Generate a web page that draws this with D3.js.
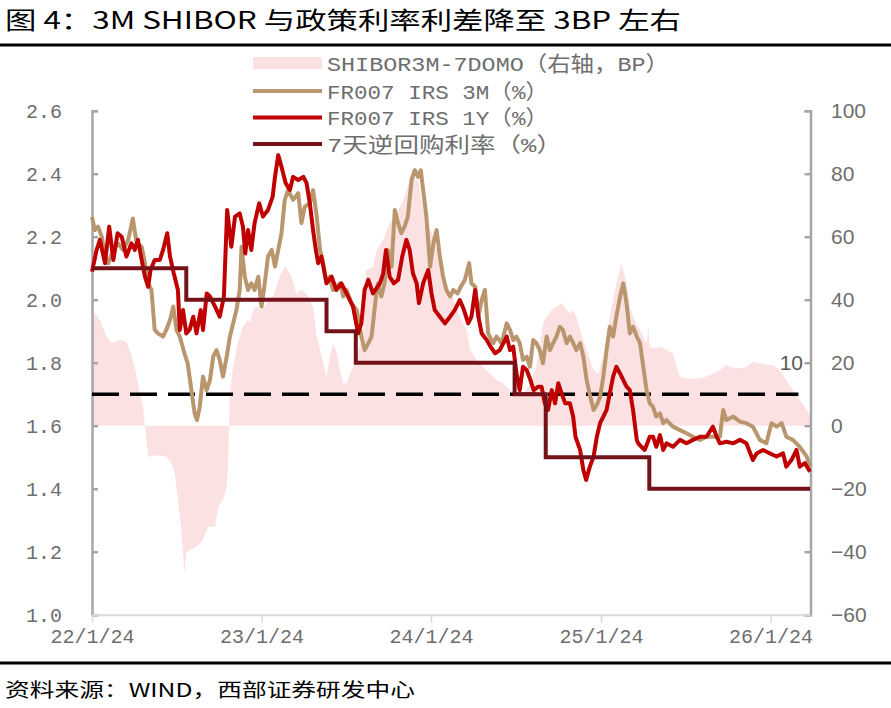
<!DOCTYPE html>
<html><head><meta charset="utf-8">
<script src="https://cdn.jsdelivr.net/npm/d3@7"></script>
<style>body{margin:0;background:#fff}svg{display:block}</style>
</head><body><svg id="c" width="891" height="708"></svg>
<script>
// ---------------- DATA ----------------
const titleText = "图 4：3M SHIBOR 与政策利率利差降至 3BP 左右";
const sourceText = "资料来源：WIND，西部证券研发中心";
const legendLabels = ["SHIBOR3M-7DOMO（右轴，BP）", "FR007 IRS 3M（%）", "FR007 IRS 1Y（%）", "7天逆回购利率（%）"];
const leftTicks = [1.0, 1.2, 1.4, 1.6, 1.8, 2.0, 2.2, 2.4, 2.6];
const rightTicks = [-60, -40, -20, 0, 20, 40, 60, 80, 100];
const xTickDates = ["2022-01-24", "2023-01-24", "2024-01-24", "2025-01-24", "2026-01-24"];
const xTickLabels = ["22/1/24", "23/1/24", "24/1/24", "25/1/24", "26/1/24"];
const refLineBP = 10;            // dashed reference line (right axis, BP)
const refLineEnd = "2026-03-25";
const refLabel = "10";

// SHIBOR3M - 7D OMO spread (BP, right axis)
const spread = [
["2022-01-24",36.7],["2022-02-10",33.6],["2022-02-24",28.3],["2022-03-07",26.2],["2022-03-25",27.2],["2022-04-08",26.7],
["2022-04-15",24],["2022-04-26",18.7],["2022-05-07",10.3],["2022-05-14",6],["2022-05-18",-0.3],["2022-05-21",-4.5],
["2022-05-25",-9.8],["2022-06-01",-9.8],["2022-06-12",-9.3],["2022-07-03",-9.8],["2022-07-14",-11.9],["2022-07-21",-15.1],
["2022-07-28",-23.6],["2022-08-05",-34.2],["2022-08-11",-46.9],["2022-08-15",-40.5],["2022-08-22",-39.5],["2022-09-06",-38.4],
["2022-09-20",-36.3],["2022-10-01",-32.1],["2022-10-16",-32.1],["2022-10-23",-25.7],["2022-11-02",-23.6],["2022-11-10",-19.4],
["2022-11-13",-13],["2022-11-15",-0.3],["2022-11-17",10.3],["2022-11-24",18.7],["2022-12-04",26.2],["2022-12-15",31.4],
["2022-12-26",33.6],["2022-12-30",32.5],["2023-01-06",36.7],["2023-01-13",37.8],["2023-01-24",36.7],["2023-02-04",38.9],
["2023-02-18",41],["2023-03-04",47.3],["2023-03-15",50.5],["2023-03-22",49.4],["2023-03-30",47.3],["2023-04-09",42],
["2023-04-20",43.1],["2023-05-01",42],["2023-05-15",37.8],["2023-05-23",28.3],["2023-06-06",19.8],["2023-06-13",15.6],
["2023-06-20",21.9],["2023-06-27",26.2],["2023-07-04",24],["2023-07-12",17.7],["2023-07-19",13.5],["2023-07-26",13.5],
["2023-08-06",17.7],["2023-08-13",19.8],["2023-08-20",24],["2023-08-27",27.2],["2023-09-01",30.4],["2023-09-06",49.4],
["2023-09-21",50.5],["2023-09-29",55.8],["2023-10-13",59],["2023-10-27",64.3],["2023-11-11",67.4],["2023-11-25",71.6],
["2023-12-05",75.9],["2023-12-16",79],["2023-12-27",78],["2024-01-07",68.5],["2024-01-18",64.3],["2024-01-29",60],
["2024-02-12",52.6],["2024-02-26",45.2],["2024-03-12",39.9],["2024-03-26",34.6],["2024-04-10",30.4],["2024-04-17",24],
["2024-05-01",20.9],["2024-05-15",18.7],["2024-05-30",16.6],["2024-06-13",14.5],["2024-06-27",13.5],["2024-07-12",11.3],
["2024-07-26",10.3],["2024-08-09",9.7],["2024-08-24",13.5],["2024-09-07",18.7],["2024-09-14",25.1],["2024-09-21",32.5],
["2024-09-29",34.6],["2024-10-10",36.7],["2024-10-20",37.8],["2024-10-31",38.9],["2024-11-11",36.7],["2024-11-18",35.7],
["2024-11-25",36.7],["2024-12-02",34.6],["2024-12-10",30.4],["2024-12-24",24],["2025-01-08",17.7],["2025-01-18",16.6],
["2025-01-29",21.9],["2025-02-12",34.6],["2025-02-26",45.2],["2025-03-09",51.6],["2025-03-20",45.2],["2025-03-27",37.8],
["2025-04-03",34.6],["2025-04-14",31.4],["2025-04-25",28.3],["2025-05-02",26.2],["2025-05-06",31.4],["2025-05-09",25.1],
["2025-05-20",24.6],["2025-06-03",25.1],["2025-06-14",24],["2025-06-28",23],["2025-07-06",18.7],["2025-07-13",15.6],
["2025-07-27",15],["2025-08-10",15],["2025-08-25",15],["2025-09-08",15.6],["2025-09-22",16.6],["2025-10-07",17.7],
["2025-10-21",19.3],["2025-11-05",18.2],["2025-11-19",18.2],["2025-12-03",18.7],["2025-12-17",20.3],["2026-01-01",19.8],
["2026-01-15",19.3],["2026-01-30",19.3],["2026-02-13",17.7],["2026-02-27",14.5],["2026-03-13",11.3],["2026-03-28",8.2],
["2026-04-12",5],["2026-04-19",3.4]
];

// FR007 IRS 3M (%)
const irs3m = [
["2022-01-24",2.263],["2022-01-30",2.221],["2022-02-06",2.232],["2022-02-14",2.2],["2022-02-21",2.137],["2022-02-28",2.116],
["2022-03-11",2.158],["2022-03-21",2.179],["2022-04-01",2.158],["2022-04-12",2.19],["2022-04-22",2.258],["2022-04-30",2.179],
["2022-05-11",2.168],["2022-05-18",2.116],["2022-05-25",2.052],["2022-06-01",2.031],["2022-06-08",1.904],["2022-06-15",1.893],
["2022-06-26",1.883],["2022-07-03",1.904],["2022-07-11",1.936],["2022-07-18",1.978],["2022-07-25",1.904],["2022-08-01",1.883],
["2022-08-11",1.83],["2022-08-18",1.798],["2022-08-26",1.713],["2022-09-02",1.639],["2022-09-07",1.618],["2022-09-13",1.66],
["2022-09-20",1.756],["2022-09-28",1.713],["2022-10-05",1.745],["2022-10-12",1.819],["2022-10-19",1.84],["2022-10-26",1.809],
["2022-11-02",1.756],["2022-11-10",1.819],["2022-11-17",1.883],["2022-11-24",1.925],["2022-12-01",1.967],["2022-12-08",2.031],
["2022-12-12",2.168],["2022-12-19",2.073],["2022-12-26",2.031],["2023-01-02",2.052],["2023-01-09",2.031],["2023-01-17",2.073],
["2023-01-24",1.978],["2023-01-31",2.052],["2023-02-07",2.137],["2023-02-15",2.158],["2023-02-22",2.105],["2023-03-01",2.158],
["2023-03-08",2.211],["2023-03-15",2.317],["2023-03-22",2.348],["2023-04-02",2.317],["2023-04-13",2.338],["2023-04-20",2.243],
["2023-04-27",2.295],["2023-05-08",2.306],["2023-05-15",2.348],["2023-05-23",2.263],["2023-05-30",2.158],["2023-06-06",2.116],
["2023-06-13",2.052],["2023-06-20",2.073],["2023-06-27",2.031],["2023-07-12",2.052],["2023-07-19",2.01],["2023-07-26",2.031],
["2023-08-06",1.989],["2023-08-17",1.967],["2023-08-27",1.883],["2023-09-03",1.84],["2023-09-11",1.862],["2023-09-18",1.883],
["2023-09-29",2.031],["2023-10-02",2.052],["2023-10-09",2.01],["2023-10-16",2.052],["2023-10-23",2.158],["2023-10-31",2.105],
["2023-11-07",2.285],["2023-11-14",2.243],["2023-11-21",2.211],["2023-11-28",2.232],["2023-12-05",2.263],["2023-12-13",2.38],
["2023-12-20",2.411],["2023-12-27",2.39],["2024-01-02",2.411],["2024-01-07",2.348],["2024-01-14",2.263],["2024-01-22",2.105],
["2024-01-29",2.179],["2024-02-05",2.221],["2024-02-12",2.137],["2024-02-19",2.073],["2024-02-26",2.031],["2024-03-05",2.01],
["2024-03-12",2.031],["2024-03-21",2.02],["2024-03-28",2.041],["2024-04-06",2.063],["2024-04-15",2.116],["2024-04-20",2.052],
["2024-04-28",2.041],["2024-05-05",1.946],["2024-05-12",1.999],["2024-05-19",2.031],["2024-05-26",1.893],["2024-06-06",1.862],
["2024-06-13",1.883],["2024-06-24",1.862],["2024-07-05",1.925],["2024-07-12",1.904],["2024-07-19",1.872],["2024-07-26",1.883],
["2024-08-02",1.862],["2024-08-09",1.809],["2024-08-17",1.819],["2024-08-24",1.787],["2024-08-31",1.872],["2024-09-07",1.862],
["2024-09-14",1.84],["2024-09-21",1.798],["2024-09-29",1.883],["2024-10-06",1.84],["2024-10-13",1.862],["2024-10-20",1.883],
["2024-10-27",1.914],["2024-11-03",1.904],["2024-11-11",1.862],["2024-11-18",1.883],["2024-11-25",1.862],["2024-12-02",1.84],
["2024-12-10",1.862],["2024-12-17",1.819],["2024-12-24",1.745],["2024-12-31",1.698],["2025-01-08",1.65],["2025-01-15",1.666],
["2025-01-22",1.692],["2025-01-29",1.756],["2025-02-05",1.84],["2025-02-12",1.914],["2025-02-19",1.883],["2025-02-26",1.946],
["2025-03-06",2.01],["2025-03-13",2.052],["2025-03-20",1.989],["2025-03-27",1.893],["2025-04-03",1.914],["2025-04-11",1.883],
["2025-04-18",1.862],["2025-04-25",1.787],["2025-05-02",1.713],["2025-05-09",1.671],["2025-05-16",1.66],["2025-05-23",1.629],
["2025-05-31",1.639],["2025-06-07",1.608],["2025-06-14",1.618],["2025-06-28",1.597],["2025-07-13",1.586],["2025-07-27",1.576],
["2025-08-10",1.565],["2025-08-25",1.555],["2025-09-08",1.565],["2025-09-22",1.565],["2025-10-07",1.565],["2025-10-14",1.65],
["2025-10-21",1.618],["2025-11-05",1.629],["2025-11-19",1.613],["2025-12-03",1.608],["2025-12-17",1.597],["2026-01-01",1.555],
["2026-01-15",1.544],["2026-01-26",1.608],["2026-02-06",1.597],["2026-02-17",1.608],["2026-02-27",1.565],["2026-03-13",1.555],
["2026-03-28",1.533],["2026-04-12",1.502],["2026-04-19",1.47]
];

// FR007 IRS 1Y (%)
const irs1y = [
["2022-01-24",2.089],["2022-02-03",2.158],["2022-02-10",2.19],["2022-02-21",2.116],["2022-03-02",2.232],["2022-03-11",2.126],
["2022-03-20",2.211],["2022-03-29",2.2],["2022-04-08",2.137],["2022-04-19",2.179],["2022-04-26",2.158],["2022-05-03",2.19],
["2022-05-11",2.126],["2022-05-18",2.073],["2022-05-25",2.041],["2022-05-30",2.094],["2022-06-08",2.126],["2022-06-19",2.126],
["2022-06-26",2.158],["2022-07-05",2.211],["2022-07-11",2.137],["2022-07-19",2.084],["2022-07-28",2.031],["2022-08-01",1.904],
["2022-08-08",1.967],["2022-08-15",1.893],["2022-08-22",1.904],["2022-08-30",1.946],["2022-09-06",1.893],["2022-09-15",1.967],
["2022-09-20",1.904],["2022-09-28",2.02],["2022-10-05",2.01],["2022-10-16",1.978],["2022-10-26",1.946],["2022-11-04",2.01],
["2022-11-11",2.285],["2022-11-20",2.168],["2022-11-28",2.264],["2022-12-08",2.274],["2022-12-15",2.232],["2022-12-20",2.147],
["2022-12-26",2.221],["2023-01-02",2.158],["2023-01-09",2.243],["2023-01-19",2.306],["2023-01-27",2.264],["2023-02-07",2.285],
["2023-02-17",2.327],["2023-02-22",2.39],["2023-03-01",2.459],["2023-03-08",2.422],["2023-03-17",2.37],["2023-03-26",2.348],
["2023-04-02",2.39],["2023-04-13",2.38],["2023-04-24",2.39],["2023-05-01",2.37],["2023-05-08",2.306],["2023-05-15",2.221],
["2023-05-21",2.158],["2023-05-26",2.116],["2023-06-02",2.137],["2023-06-13",2.052],["2023-06-24",2.073],["2023-07-04",2.031],
["2023-07-15",2.052],["2023-07-26",2.02],["2023-08-09",1.978],["2023-08-20",1.893],["2023-08-27",1.925],["2023-09-03",2.031],
["2023-09-11",2.063],["2023-09-21",2.02],["2023-10-06",2.052],["2023-10-13",2.084],["2023-10-19",2.158],["2023-10-27",2.073],
["2023-11-05",2.052],["2023-11-14",2.063],["2023-11-23",2.137],["2023-12-02",2.19],["2023-12-09",2.158],["2023-12-16",2.084],
["2023-12-24",2.052],["2023-12-29",1.989],["2024-01-07",2.052],["2024-01-18",2.094],["2024-01-25",2.02],["2024-02-01",1.967],
["2024-02-12",1.946],["2024-02-23",1.925],["2024-03-05",1.946],["2024-03-15",1.967],["2024-03-26",1.999],["2024-04-04",1.967],
["2024-04-13",1.925],["2024-04-20",1.946],["2024-04-28",2.031],["2024-05-05",1.946],["2024-05-12",1.893],["2024-05-23",1.872],
["2024-05-31",1.851],["2024-06-10",1.83],["2024-06-20",1.84],["2024-07-05",1.883],["2024-07-12",1.84],["2024-07-19",1.851],
["2024-07-26",1.766],["2024-08-02",1.713],["2024-08-09",1.787],["2024-08-17",1.777],["2024-08-25",1.745],["2024-09-01",1.713],
["2024-09-11",1.724],["2024-09-18",1.724],["2024-09-25",1.671],["2024-10-02",1.65],["2024-10-10",1.713],["2024-10-17",1.671],
["2024-10-24",1.735],["2024-10-31",1.703],["2024-11-08",1.671],["2024-11-18",1.671],["2024-11-25",1.629],["2024-11-30",1.565],
["2024-12-10",1.523],["2024-12-17",1.459],["2024-12-23",1.428],["2024-12-31",1.47],["2025-01-08",1.502],["2025-01-15",1.565],
["2025-01-22",1.608],["2025-01-29",1.629],["2025-02-05",1.65],["2025-02-12",1.703],["2025-02-19",1.756],["2025-02-26",1.787],
["2025-03-06",1.766],["2025-03-13",1.745],["2025-03-20",1.724],["2025-03-27",1.713],["2025-04-03",1.65],["2025-04-11",1.555],
["2025-04-14",1.544],["2025-04-21",1.533],["2025-04-28",1.523],["2025-05-09",1.565],["2025-05-16",1.565],["2025-05-23",1.533],
["2025-05-31",1.57],["2025-06-07",1.523],["2025-06-14",1.544],["2025-06-28",1.533],["2025-07-13",1.555],["2025-07-27",1.544],
["2025-08-10",1.555],["2025-08-25",1.565],["2025-09-08",1.565],["2025-09-22",1.597],["2025-09-30",1.565],["2025-10-07",1.544],
["2025-10-21",1.549],["2025-11-05",1.544],["2025-11-19",1.555],["2025-12-03",1.544],["2025-12-17",1.491],["2025-12-25",1.512],
["2026-01-08",1.523],["2026-01-23",1.512],["2026-02-06",1.502],["2026-02-20",1.512],["2026-02-27",1.47],["2026-03-10",1.491],
["2026-03-21",1.523],["2026-03-28",1.47],["2026-04-08",1.481],["2026-04-19",1.454]
];

// 7-day reverse repo rate (%), step changes
const repo7d = [
["2022-01-24",2.10],["2022-08-15",2.00],["2023-06-13",1.90],["2023-08-15",1.80],
["2024-07-22",1.70],["2024-09-27",1.50],["2025-05-08",1.40],["2026-04-19",1.40]
];

const seriesColors = { spread: "#fce1e3", irs3m: "#b9966e", irs1y: "#c00000", repo: "#74121a" };

// ---------------- CHART ----------------
const parse = d3.timeParse("%Y-%m-%d");
const svg = d3.select("#c");
const x = d3.scaleTime().domain([parse("2022-01-24"), parse("2026-04-19")]).range([92, 810]);
const yL = d3.scaleLinear().domain([1.0, 2.6]).range([614.7, 110.7]);
const yR = d3.scaleLinear().domain([-60, 100]).range([614.7, 110.7]);

const monoFont = "'Liberation Mono', 'Noto Sans CJK SC', monospace";
const sansFont = "'Liberation Sans', Arial, sans-serif";
const cjkFont = "'Noto Sans CJK SC', sans-serif";

// title + rules
svg.append("text").attr("x", 5).attr("y", 29).attr("font-family", cjkFont).attr("font-size", 24)
  .attr("fill", "#000").attr("textLength", 676).attr("lengthAdjust", "spacingAndGlyphs").text(titleText);
svg.append("line").attr("x1", 0).attr("x2", 891).attr("y1", 45).attr("y2", 45).attr("stroke", "#000").attr("stroke-width", 3);
svg.append("line").attr("x1", 0).attr("x2", 891).attr("y1", 663).attr("y2", 663).attr("stroke", "#000").attr("stroke-width", 3);
svg.append("text").attr("x", 5).attr("y", 697).attr("font-family", cjkFont).attr("font-size", 19)
  .attr("fill", "#000").attr("textLength", 410).attr("lengthAdjust", "spacingAndGlyphs").text(sourceText);

// spread area
const area = d3.area().x(d => x(parse(d[0]))).y0(yR(0)).y1(d => yR(d[1]));
svg.append("path").datum(spread).attr("d", area).attr("fill", seriesColors.spread);

// axes
const gL = svg.append("g").attr("transform", "translate(92,0)")
  .call(d3.axisRight(yL).tickValues(leftTicks).tickSize(6).tickFormat(""));
const gR = svg.append("g").attr("transform", "translate(810.5,0)")
  .call(d3.axisLeft(yR).tickValues(rightTicks).tickSize(6).tickFormat(""));
[gL, gR].forEach(g => {
  g.selectAll("path,line").attr("stroke", "#a6a6a6").attr("stroke-width", 2.5);
});
const gB = svg.append("g").attr("transform", "translate(0,614.7)")
  .call(d3.axisBottom(x).tickValues(xTickDates.map(parse)).tickSize(8).tickSizeOuter(0)
    .tickFormat((d, i) => xTickLabels[i]));
gB.select(".domain").attr("stroke", "#d9d9d9").attr("stroke-width", 2);
gB.selectAll(".tick line").attr("stroke", "#d9d9d9").attr("stroke-width", 1.5);
gB.selectAll(".tick text").attr("font-family", monoFont).attr("font-size", 20).attr("fill", "#6e6e6e")
  .attr("y", 14).attr("dy", "0.71em");

// left / right tick labels
svg.append("g").selectAll("text").data(leftTicks).join("text")
  .attr("x", 62).attr("y", d => yL(d) + 7).attr("text-anchor", "end")
  .attr("font-family", monoFont).attr("font-size", 20).attr("fill", "#6e6e6e")
  .text(d => d3.format(".1f")(d));
svg.append("g").selectAll("text").data(rightTicks).join("text")
  .attr("x", 831).attr("y", d => yR(d) + 7.5)
  .attr("font-family", sansFont).attr("font-size", 21).attr("fill", "#6e6e6e")
  .text(d => d < 0 ? "\u2212" + Math.abs(d) : String(d));

// dashed reference line
svg.append("line").attr("x1", x(parse("2022-01-24"))).attr("x2", x(parse(refLineEnd)))
  .attr("y1", yR(refLineBP)).attr("y2", yR(refLineBP))
  .attr("stroke", "#000").attr("stroke-width", 3.5).attr("stroke-dasharray", "27 11");
svg.append("text").attr("x", 803).attr("y", yR(20) + 7.5).attr("text-anchor", "end")
  .attr("font-family", sansFont).attr("font-size", 21).attr("fill", "#595959").text(refLabel);

// lines
const lineL = d3.line().x(d => x(parse(d[0]))).y(d => yL(d[1]));
svg.append("path").datum(irs3m).attr("d", lineL).attr("fill", "none")
  .attr("stroke", seriesColors.irs3m).attr("stroke-width", 4).attr("stroke-linejoin", "round");
svg.append("path").datum(irs1y).attr("d", lineL).attr("fill", "none")
  .attr("stroke", seriesColors.irs1y).attr("stroke-width", 4).attr("stroke-linejoin", "round");
svg.append("path").datum(repo7d).attr("d", lineL.curve(d3.curveStepAfter)).attr("fill", "none")
  .attr("stroke", seriesColors.repo).attr("stroke-width", 4);

// legend
const legendY = [63, 91, 117.5, 144];
const legendW = [342, 221, 221, 235];
const legendColors = [seriesColors.spread, seriesColors.irs3m, seriesColors.irs1y, seriesColors.repo];
const lg = svg.append("g");
legendLabels.forEach((lab, i) => {
  if (i === 0) {
    lg.append("rect").attr("x", 253).attr("y", legendY[i] - 6).attr("width", 69).attr("height", 12).attr("fill", legendColors[i]);
  } else {
    lg.append("line").attr("x1", 253).attr("x2", 322).attr("y1", legendY[i]).attr("y2", legendY[i])
      .attr("stroke", legendColors[i]).attr("stroke-width", 4);
  }
  lg.append("text").attr("x", 327).attr("y", legendY[i] + 7.5)
    .attr("font-family", monoFont).attr("font-size", 21).attr("fill", "#6e6e6e")
    .attr("textLength", legendW[i]).attr("lengthAdjust", "spacingAndGlyphs").text(lab);
});
</script></body></html>
